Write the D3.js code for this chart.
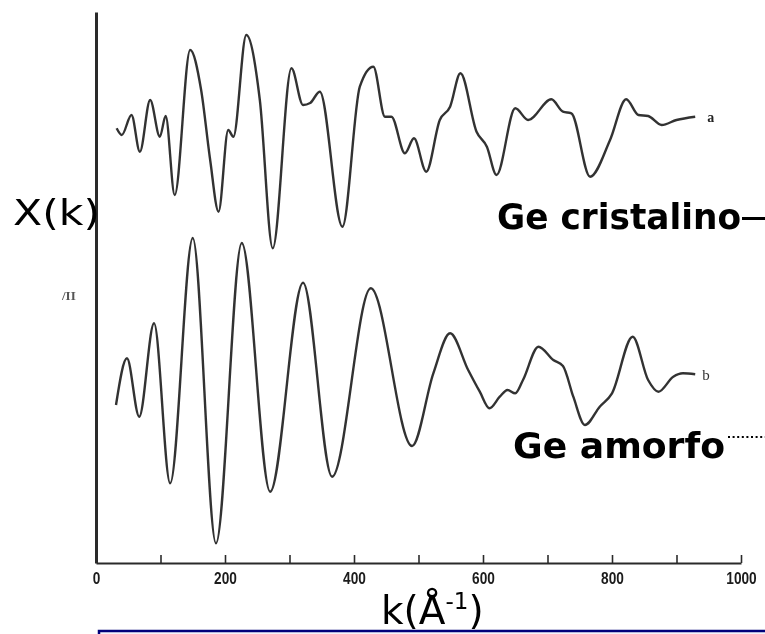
<!DOCTYPE html>
<html>
<head>
<meta charset="utf-8">
<script src="https://cdn.jsdelivr.net/npm/d3@7"></script>
<style>
  html, body { margin: 0; padding: 0; background: #fff; }
  svg { display: block; }
</style>
</head>
<body>
<svg id="chart" width="765" height="634"></svg>
<script>
// EXAFS oscillations chi(k): crystalline vs amorphous germanium
const kTicks = [0, 100, 200, 300, 400, 500, 600, 700, 800, 900, 1000];
const kLabels = [0, 200, 400, 600, 800, 1000];

// curve a: crystalline Ge (k, chi in arbitrary units)
const kCrist = [32, 40, 55, 68, 84, 99, 108, 122, 146, 163, 177, 190, 205, 213, 233, 254, 274, 303, 321, 332, 347, 382, 409, 430, 448, 458, 479, 493, 512, 533, 549, 565, 590, 606, 621, 650, 670, 706, 724, 737, 766, 797, 822, 841, 856, 877, 900, 929];
const chiCrist = [-0.33, -1.0, 1.0, -2.67, 2.5, -1.17, 0.9, -7.0, 7.5, 3.5, -3.5, -8.67, -0.5, -1.17, 9.0, 2.5, -12.33, 5.67, 2.0, 2.2, 3.33, -10.17, 3.83, 5.83, 0.83, 0.83, -2.83, -1.33, -4.67, 0.5, 1.83, 5.17, -0.67, -2.17, -5.0, 1.67, 0.5, 2.57, 1.33, 1.17, -5.17, -1.5, 2.57, 1.0, 0.9, 0.0, 0.5, 0.83];

// curve b: amorphous Ge
const kAmorf = [31, 48, 67, 90, 115, 150, 186, 226, 270, 321, 366, 426, 490, 523, 549, 577, 595, 610, 626, 638, 650, 662, 686, 709, 724, 740, 758, 781, 800, 832, 856, 872, 895, 910, 929];
const chiAmorf = [-2.5, 2.17, -3.67, 5.67, -10.33, 14.2, -16.33, 13.7, -11.17, 9.73, -9.67, 9.17, -6.6, 0.67, 4.67, 1.0, -1.17, -2.83, -1.67, -1.0, -1.33, 0.0, 3.33, 2.0, 1.4, -1.67, -4.5, -2.67, -1.33, 4.33, 0.0, -1.17, 0.33, 0.67, 0.57];

// vertical offsets separating the two spectra
const offsetCrist = 43.8;
const offsetAmorf = 18.3;

const svg = d3.select("#chart");

const x = d3.scaleLinear().domain([0, 1000]).range([96, 741]);
const y = d3.scaleLinear().domain([0, 55.1]).range([563, 12]);

// soft scanned look for the plot itself
const defs = svg.append("defs");
defs.append("filter").attr("id", "soft")
  .attr("x", "-5%").attr("y", "-5%").attr("width", "110%").attr("height", "110%")
  .append("feGaussianBlur").attr("stdDeviation", 0.55);

const plot = svg.append("g").attr("filter", "url(#soft)");

// x axis: inward ticks every 100, labels every 200
const xAxis = d3.axisBottom(x)
  .tickValues(kTicks)
  .tickSizeInner(-8)
  .tickSizeOuter(0)
  .tickPadding(10)
  .tickFormat(d => kLabels.includes(d) ? d : "");

const gx = plot.append("g")
  .attr("transform", `translate(0,${y(0)})`)
  .call(xAxis);
gx.select(".domain").attr("stroke", "#2a2a2a").attr("stroke-width", 2.2);
gx.selectAll(".tick line").attr("stroke", "#2a2a2a").attr("stroke-width", 1.6);
gx.selectAll(".tick text")
  .attr("fill", "#1a1a1a")
  .attr("font-family", "'Liberation Sans Narrow', 'Liberation Sans', sans-serif")
  .attr("font-weight", "bold")
  .attr("font-size", 17)
  .attr("dy", "0.65em")
  .attr("textLength", d => String(d).length * 7.6)
  .attr("lengthAdjust", "spacingAndGlyphs");

// y axis: bare vertical line
const gy = plot.append("g")
  .attr("transform", `translate(${x(0)},0)`)
  .call(d3.axisLeft(y).tickValues([]).tickSizeOuter(0));
gy.select(".domain").attr("stroke", "#2a2a2a").attr("stroke-width", 3);

const line = d3.line().curve(d3.curveMonotoneX);

const ptsCrist = kCrist.map((k, i) => [x(k), y(chiCrist[i] + offsetCrist)]);
const ptsAmorf = kAmorf.map((k, i) => [x(k), y(chiAmorf[i] + offsetAmorf)]);

plot.append("path")
  .attr("d", line(ptsCrist))
  .attr("fill", "none")
  .attr("stroke", "#333")
  .attr("stroke-width", 2.4)
  .attr("stroke-linejoin", "round");

plot.append("path")
  .attr("d", line(ptsAmorf))
  .attr("fill", "none")
  .attr("stroke", "#333")
  .attr("stroke-width", 2.4)
  .attr("stroke-linejoin", "round");

// curve tags
const lastC = ptsCrist[ptsCrist.length - 1];
const lastA = ptsAmorf[ptsAmorf.length - 1];
plot.append("text")
  .attr("x", lastC[0] + 12).attr("y", lastC[1] + 5)
  .attr("font-family", "'Liberation Serif', serif")
  .attr("font-weight", "bold").attr("font-size", 14)
  .attr("fill", "#222").text("a");
plot.append("text")
  .attr("x", lastA[0] + 7).attr("y", lastA[1] + 6)
  .attr("font-family", "'Liberation Serif', serif")
  .attr("font-size", 15)
  .attr("fill", "#333").text("b");

// stray mark on the scanned figure
plot.append("text")
  .attr("x", 62).attr("y", 300)
  .attr("font-family", "'Liberation Serif', serif")
  .attr("font-weight", "bold").attr("font-size", 13)
  .attr("fill", "#555").text("/II");

// slide annotations
svg.append("text")
  .attr("x", 13).attr("y", 225)
  .attr("font-family", "'DejaVu Sans', sans-serif")
  .attr("font-size", 36)
  .attr("textLength", 87).attr("lengthAdjust", "spacingAndGlyphs")
  .attr("fill", "#000").text("X(k)");

svg.append("text")
  .attr("x", 497).attr("y", 229)
  .attr("font-family", "'DejaVu Sans', sans-serif")
  .attr("font-weight", "bold").attr("font-size", 35)
  .attr("textLength", 244).attr("lengthAdjust", "spacingAndGlyphs")
  .attr("fill", "#000").text("Ge cristalino");
svg.append("line")
  .attr("x1", 742).attr("x2", 765).attr("y1", 218.5).attr("y2", 218.5)
  .attr("stroke", "#000").attr("stroke-width", 3);

svg.append("text")
  .attr("x", 513).attr("y", 458)
  .attr("font-family", "'DejaVu Sans', sans-serif")
  .attr("font-weight", "bold").attr("font-size", 36)
  .attr("textLength", 212).attr("lengthAdjust", "spacingAndGlyphs")
  .attr("fill", "#000").text("Ge amorfo");
svg.append("line")
  .attr("x1", 728).attr("x2", 765).attr("y1", 437).attr("y2", 437)
  .attr("stroke", "#000").attr("stroke-width", 2)
  .attr("stroke-dasharray", "2,2.6");

// bottom text box edge
svg.append("rect")
  .attr("x", 99).attr("y", 631).attr("width", 700).attr("height", 40)
  .attr("fill", "#f2f3fb").attr("stroke", "#00007a").attr("stroke-width", 2.5);

// x-axis title
const kt = svg.append("text")
  .attr("x", 381).attr("y", 624)
  .attr("font-family", "'DejaVu Sans', sans-serif")
  .attr("font-size", 39)
  .attr("fill", "#000");
kt.append("tspan").text("k(Å");
kt.append("tspan").attr("font-size", 23).attr("dy", -15).text("-1");
kt.append("tspan").attr("dy", 15).text(")");
</script>
</body>
</html>
